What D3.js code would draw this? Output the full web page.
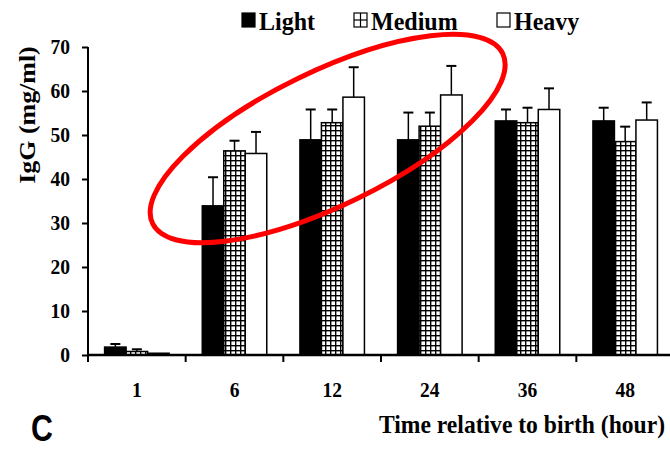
<!DOCTYPE html>
<html>
<head>
<meta charset="utf-8">
<script src="https://cdn.jsdelivr.net/npm/d3@7"></script>
<style>
  html, body { margin: 0; padding: 0; background: #fff; }
  svg { display: block; }
  .serif { font-family: "Liberation Serif", "Times New Roman", serif; font-weight: bold; fill: #000; }
</style>
</head>
<body>
<script>
// Serum IgG by birth-weight group over time after birth
const categories = ["1", "6", "12", "24", "36", "48"];
const seriesNames = ["Light", "Medium", "Heavy"];
const light      = [1.8, 33.9, 48.9, 48.9, 53.2, 53.2];
const lightErr   = [0.7, 6.5, 6.9, 6.2, 2.6, 3.0];
const medium     = [0.8, 46.4, 52.8, 52.0, 52.8, 48.5];
const mediumErr  = [0.5, 2.3, 3.0, 3.1, 3.4, 3.4];
const heavy      = [0.4, 45.8, 58.6, 59.1, 55.8, 53.4];
const heavyErr   = [0.0, 4.9, 6.8, 6.6, 4.8, 4.0];
const yTicks     = [0, 10, 20, 30, 40, 50, 60, 70];

const W = 670, H = 449;
const STRETCH = 1.08; // serif labels are drawn slightly tall
const svg = d3.select("body").append("svg").attr("width", W).attr("height", H);

const defs = svg.append("defs");
const pat = defs.append("pattern")
  .attr("id", "grid").attr("patternUnits", "userSpaceOnUse")
  .attr("width", 5).attr("height", 5);
pat.append("rect").attr("width", 5).attr("height", 5).attr("fill", "#000");
pat.append("rect").attr("x", 1.4).attr("y", 1.4).attr("width", 3.6).attr("height", 3.6).attr("fill", "#fff");

const x = d3.scaleBand().domain(categories).range([88, 674]).padding(0);
const inner = d3.scaleBand().domain(seriesNames).range([16.6, 81.1]).padding(0);
const y = d3.scaleLinear().domain([0, 70]).range([355, 47]);

const rows = [];
categories.forEach((c, i) => {
  rows.push({ cat: c, s: "Light",  v: light[i],  e: lightErr[i] });
  rows.push({ cat: c, s: "Medium", v: medium[i], e: mediumErr[i] });
  rows.push({ cat: c, s: "Heavy",  v: heavy[i],  e: heavyErr[i] });
});

const fills = { Light: "#000", Medium: "url(#grid)", Heavy: "#fff" };

// error bars (upward only)
const eb = svg.append("g");
rows.filter(d => d.e > 0).forEach(d => {
  const cx = x(d.cat) + inner(d.s) + inner.bandwidth() / 2;
  eb.append("line").attr("x1", cx).attr("x2", cx)
    .attr("y1", y(d.v)).attr("y2", y(d.v + d.e))
    .attr("stroke", "#000").attr("stroke-width", 1.5);
  eb.append("line").attr("x1", cx - 5).attr("x2", cx + 5)
    .attr("y1", y(d.v + d.e)).attr("y2", y(d.v + d.e))
    .attr("stroke", "#000").attr("stroke-width", 2);
});

// bars
svg.append("g").selectAll("rect").data(rows).join("rect")
  .attr("x", d => x(d.cat) + inner(d.s))
  .attr("y", d => y(d.v))
  .attr("width", inner.bandwidth())
  .attr("height", d => y(0) - y(d.v))
  .attr("fill", d => fills[d.s])
  .attr("stroke", "#000").attr("stroke-width", 1.5);

// y axis
const yAxis = svg.append("g").attr("transform", "translate(88,0)")
  .call(d3.axisLeft(y).tickValues(yTicks).tickSize(6).tickPadding(12).tickFormat(d3.format("d")));
yAxis.select(".domain").attr("stroke", "#000").attr("stroke-width", 2).attr("d", `M0,${y(70)}V${y(0)}`);
yAxis.selectAll(".tick line").attr("stroke", "#000").attr("stroke-width", 2);
yAxis.selectAll(".tick text").attr("class", "serif").style("font-size", "19.5px")
  .attr("transform", `scale(1,${STRETCH})`);

// x axis: ticks at category boundaries, labels at centers
const xAxisG = svg.append("g");
xAxisG.append("line").attr("x1", 87).attr("x2", W).attr("y1", y(0)).attr("y2", y(0))
  .attr("stroke", "#000").attr("stroke-width", 2.5);
xAxisG.selectAll("line.tk").data(categories).join("line").attr("class", "tk")
  .attr("x1", d => x(d)).attr("x2", d => x(d))
  .attr("y1", y(0)).attr("y2", y(0) + 7)
  .attr("stroke", "#000").attr("stroke-width", 2);
xAxisG.selectAll("text").data(categories).join("text").attr("class", "serif")
  .attr("transform", d => `translate(${x(d) + x.bandwidth() / 2},397) scale(1,${STRETCH})`)
  .attr("text-anchor", "middle").style("font-size", "19.5px").text(d => d);

// axis titles
svg.append("text").attr("class", "serif")
  .attr("transform", `translate(665,433) scale(1,${STRETCH})`).attr("text-anchor", "end")
  .style("font-size", "23.6px").text("Time relative to birth (hour)");
svg.append("text").attr("class", "serif")
  .attr("transform", `translate(35,115) rotate(-90) scale(${STRETCH},1)`)
  .attr("text-anchor", "middle").style("font-size", "24px").text("IgG (mg/ml)");

// panel letter
svg.append("text").attr("transform", "translate(31,441) scale(0.82,1)")
  .style("font-family", "'Liberation Sans', Arial, sans-serif").style("font-weight", "bold")
  .style("font-size", "37px").text("C");

// legend
const legendX = [242, 354, 497];
const lg = svg.append("g");
seriesNames.forEach((s, i) => {
  const g = lg.append("g").attr("transform", `translate(${legendX[i]},13)`);
  g.append("rect").attr("width", 13).attr("height", 14)
    .attr("fill", s === "Light" ? "#000" : "#fff").attr("stroke", "#000").attr("stroke-width", 1.2);
  if (s === "Medium") {
    g.append("line").attr("x1", 6.5).attr("x2", 6.5).attr("y1", 0).attr("y2", 14).attr("stroke", "#000").attr("stroke-width", 1.2);
    g.append("line").attr("x1", 0).attr("x2", 13).attr("y1", 7).attr("y2", 7).attr("stroke", "#000").attr("stroke-width", 1.2);
  }
  g.append("text").attr("class", "serif")
    .attr("transform", `translate(17,16.5) scale(1,${STRETCH})`)
    .style("font-size", "24px").text(s);
});

// highlight ellipse around the 6-24 h groups
const ex = (x("6") + x("24") + x.bandwidth()) / 2 - 4.5;
const ey = y(49.2);
svg.append("ellipse")
  .attr("transform", `translate(${ex},${ey}) rotate(-25.9)`)
  .attr("rx", 194.6).attr("ry", 67)
  .attr("fill", "none").attr("stroke", "#ff0000").attr("stroke-width", 5);
</script>
</body>
</html>
